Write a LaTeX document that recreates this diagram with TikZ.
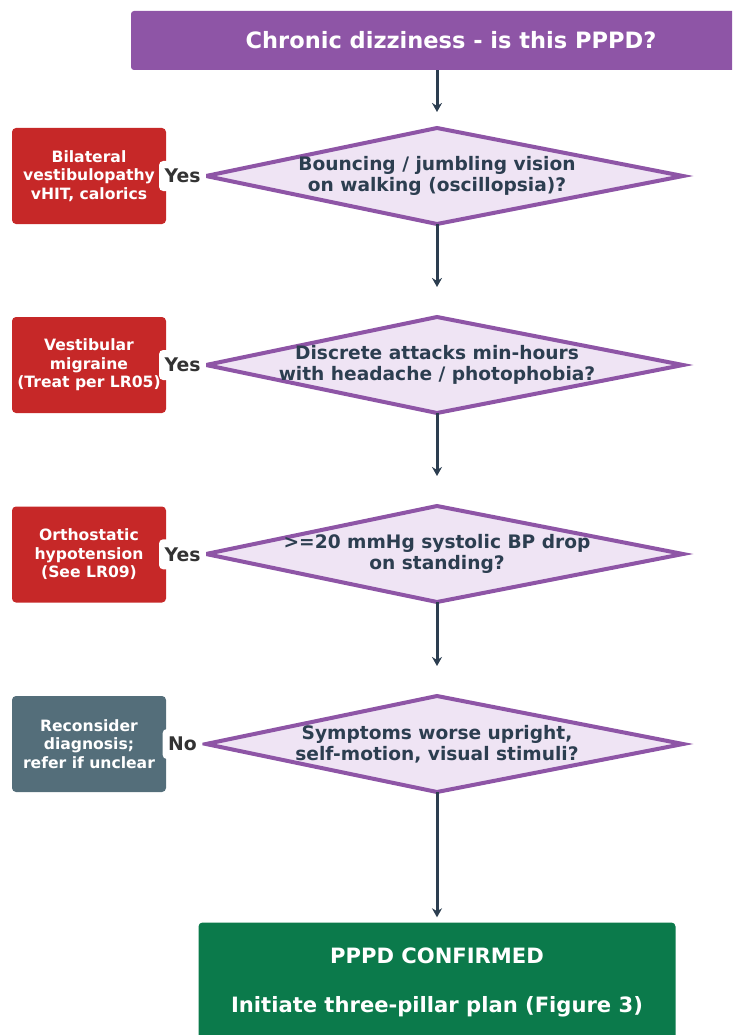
\documentclass[tikz,border=0pt]{standalone}
\usepackage{fontspec}
\setmainfont{DejaVu Sans}
\usetikzlibrary{arrows.meta}
\definecolor{ppurple}{HTML}{8E55A6}
\definecolor{plav}{HTML}{EFE4F4}
\definecolor{pred}{HTML}{C62828}
\definecolor{pgray}{HTML}{546E7A}
\definecolor{pgreen}{HTML}{0B7A4B}
\definecolor{pdark}{HTML}{2C3E50}
\definecolor{plabel}{HTML}{333333}
\begin{document}
\begin{tikzpicture}[x=1pt,y=-1pt,
  titlebox/.style={fill=ppurple, rounded corners=3pt, minimum width=640pt, minimum height=59pt, inner sep=0pt, text=white, font=\fontsize{22.5}{26}\selectfont\bfseries},
  dia/.style={draw=ppurple, fill=plav, line width=4pt, line join=miter},
  dtext/.style={font=\fontsize{18.6}{21}\selectfont\bfseries, text=pdark, align=center, inner sep=0pt},
  sidebox/.style={rounded corners=4pt, minimum width=154pt, minimum height=96pt, inner sep=0pt, text=white, align=center, font=\fontsize{15.6}{18.5}\selectfont\bfseries},
  lbl/.style={fill=white, rounded corners=4pt, inner xsep=5.5pt, inner ysep=0pt, minimum height=30pt, text=plabel, font=\fontsize{18.8}{20}\selectfont\bfseries},
  flow/.style={draw=pdark, line width=3pt, -{Stealth[length=9pt,width=10pt]}},
  endbox/.style={fill=pgreen, rounded corners=4pt, minimum width=477pt, minimum height=119pt, inner sep=0pt, text=white, align=center, font=\fontsize{21.1}{24}\selectfont\bfseries}
]
\useasboundingbox (0,0) rectangle (732,1035);
\clip (0,0) rectangle (732,1035);

\node[titlebox] (top) at (451,40.5) {Chronic dizziness - is this PPPD?};

% decision diamonds (drawn as polygons with named corner coordinates)
\foreach \n/\y in {1/176,2/365,3/554,4/744}{
  \coordinate (d\n w) at (206,\y);
  \coordinate (d\n n) at (437,\y-48);
  \coordinate (d\n e) at (683,\y);
  \coordinate (d\n s) at (437,\y+48);
  \path[dia] (d\n w) -- (d\n n) -- (d\n e) -- (d\n s) -- cycle;
}
\node[dtext] (t1) at (437,176) {Bouncing / jumbling vision\\on walking (oscillopsia)?};
\node[dtext] (t2) at (437,365) {Discrete attacks min-hours\\with headache / photophobia?};
\node[dtext] (t3) at (437,554) {>=20 mmHg systolic BP drop\\on standing?};
\node[dtext] (t4) at (437,744) {Symptoms worse upright,\\self-motion, visual stimuli?};

\node[sidebox, fill=pred] (b1) at (89,176) {Bilateral\\vestibulopathy\\vHIT, calorics};
\node[sidebox, fill=pred] (b2) at (89,365) {Vestibular\\migraine\\(Treat per LR05)};
\node[sidebox, fill=pred] (b3) at (89,554.5) {Orthostatic\\hypotension\\(See LR09)};
\node[sidebox, fill=pgray] (b4) at (89,744) {Reconsider\\diagnosis;\\refer if unclear};

\node[endbox] (ok) at (437,982) {PPPD CONFIRMED\\[25pt]Initiate three-pillar plan (Figure 3)};

\draw[flow, shorten >=16pt] (d1n |- top.south) -- (d1n);
\draw[flow, shorten >=30pt] (d1s) -- (d2n);
\draw[flow, shorten >=30pt] (d2s) -- (d3n);
\draw[flow, shorten >=30pt] (d3s) -- (d4n);
\draw[flow, shorten >=5pt] (d4s) -- (ok.north -| d4s);

\path (d1w) -- node[lbl, pos=0.59] (y1) {Yes} (b1.east);
\path (d2w) -- node[lbl, pos=0.59] (y2) {Yes} (b2.east);
\path (d3w) -- node[lbl, pos=0.59] (y3) {Yes} (b3.east);
\path (d4w) -- node[lbl, pos=0.59] (n4) {No} (b4.east);
\end{tikzpicture}
\end{document}
